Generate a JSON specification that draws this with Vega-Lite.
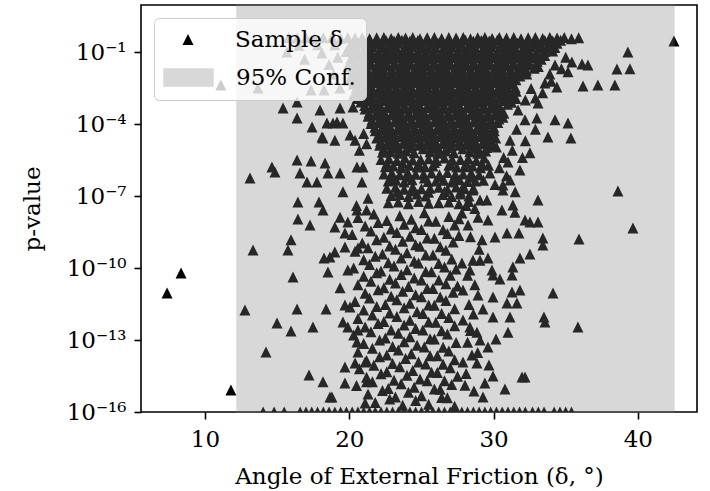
{
"$schema":"https://vega.github.io/schema/vega-lite/v6.json",
"width":556,"height":407,
"autosize":{"type":"none"},
"padding":{"left":141,"top":5,"right":13,"bottom":79},
"background":"white",
"config":{
 "font":"DejaVu Serif",
 "view":{"stroke":"#000","strokeWidth":1.6},
 "axis":{"domain":false,"grid":false,"ticks":true,"tickColor":"#000","tickWidth":1.6,"tickSize":7,"labelFont":"DejaVu Serif","labelFontSize":23,"labelColor":"#000","titleFont":"DejaVu Serif","titleFontSize":23,"titleFontWeight":"normal","titleColor":"#000"}
},
"datasets":{
"conf":[{"lo":12.22,"hi":42.5}],
"samples":[
{"x":15.8,"p":0.4},{"x":16.4,"p":0.38},{"x":17.0,"p":0.4},{"x":17.6,"p":0.36},{"x":18.2,"p":0.39},{"x":18.8,"p":0.4},{"x":19.4,"p":0.37},{"x":19.9,"p":0.4},{"x":20.4,"p":0.38},{"x":20.9,"p":0.4},{"x":21.4,"p":0.36},{"x":21.9,"p":0.39},{"x":22.4,"p":0.4},{"x":22.9,"p":0.37},{"x":23.4,"p":0.4},{"x":23.9,"p":0.38},{"x":24.4,"p":0.4},{"x":24.9,"p":0.36},{"x":25.4,"p":0.39},{"x":25.9,"p":0.4},{"x":26.4,"p":0.37},{"x":26.9,"p":0.4},{"x":27.4,"p":0.38},{"x":27.9,"p":0.4},{"x":28.4,"p":0.36},{"x":28.9,"p":0.39},{"x":29.4,"p":0.4},{"x":29.9,"p":0.37},{"x":30.4,"p":0.4},{"x":30.9,"p":0.38},{"x":31.4,"p":0.4},{"x":31.9,"p":0.36},{"x":32.4,"p":0.39},{"x":32.9,"p":0.4},{"x":33.4,"p":0.37},{"x":33.9,"p":0.4},{"x":34.4,"p":0.38},{"x":34.9,"p":0.4},{"x":35.4,"p":0.36},{"x":35.9,"p":0.39},
{"x":20.35,"p":0.3},{"x":20.9,"p":0.29},{"x":21.45,"p":0.31},{"x":22.0,"p":0.28},{"x":22.55,"p":0.3},{"x":23.1,"p":0.29},{"x":23.65,"p":0.31},{"x":24.2,"p":0.28},{"x":24.75,"p":0.3},{"x":25.3,"p":0.29},{"x":25.85,"p":0.31},{"x":26.4,"p":0.28},{"x":26.95,"p":0.3},{"x":27.5,"p":0.29},{"x":28.05,"p":0.31},{"x":28.6,"p":0.28},{"x":29.15,"p":0.3},{"x":29.7,"p":0.29},{"x":30.25,"p":0.31},{"x":30.8,"p":0.28},{"x":31.35,"p":0.3},{"x":31.9,"p":0.29},{"x":32.45,"p":0.31},{"x":33.0,"p":0.28},{"x":33.55,"p":0.3},{"x":34.1,"p":0.29},{"x":34.65,"p":0.31},
{"x":20.1,"p":0.21},{"x":20.65,"p":0.23},{"x":21.2,"p":0.2},{"x":21.75,"p":0.22},{"x":22.3,"p":0.19},{"x":22.85,"p":0.21},{"x":23.4,"p":0.23},{"x":23.95,"p":0.2},{"x":24.5,"p":0.22},{"x":25.05,"p":0.19},{"x":25.6,"p":0.21},{"x":26.15,"p":0.23},{"x":26.7,"p":0.2},{"x":27.25,"p":0.22},{"x":27.8,"p":0.19},{"x":28.35,"p":0.21},{"x":28.9,"p":0.23},{"x":29.45,"p":0.2},{"x":30.0,"p":0.22},{"x":30.55,"p":0.19},{"x":31.1,"p":0.21},{"x":31.65,"p":0.23},{"x":32.2,"p":0.2},{"x":32.75,"p":0.22},{"x":33.3,"p":0.19},{"x":33.85,"p":0.21},{"x":34.4,"p":0.23},
{"x":19.95,"p":0.148},{"x":20.5,"p":0.155},{"x":21.05,"p":0.14},{"x":21.6,"p":0.16},{"x":22.15,"p":0.145},{"x":22.7,"p":0.148},{"x":23.25,"p":0.155},{"x":23.8,"p":0.14},{"x":24.35,"p":0.16},{"x":24.9,"p":0.145},{"x":25.45,"p":0.148},{"x":26.0,"p":0.155},{"x":26.55,"p":0.14},{"x":27.1,"p":0.16},{"x":27.65,"p":0.145},{"x":28.2,"p":0.148},{"x":28.75,"p":0.155},{"x":29.3,"p":0.14},{"x":29.85,"p":0.16},{"x":30.4,"p":0.145},{"x":30.95,"p":0.148},{"x":31.5,"p":0.155},{"x":32.05,"p":0.14},{"x":32.6,"p":0.16},{"x":33.15,"p":0.145},{"x":33.7,"p":0.148},{"x":34.25,"p":0.155},
{"x":19.8,"p":0.105},{"x":20.35,"p":0.11},{"x":20.9,"p":0.098},{"x":21.45,"p":0.115},{"x":22.0,"p":0.1},{"x":22.55,"p":0.105},{"x":23.1,"p":0.11},{"x":23.65,"p":0.098},{"x":24.2,"p":0.115},{"x":24.75,"p":0.1},{"x":25.3,"p":0.105},{"x":25.85,"p":0.11},{"x":26.4,"p":0.098},{"x":26.95,"p":0.115},{"x":27.5,"p":0.1},{"x":28.05,"p":0.105},{"x":28.6,"p":0.11},{"x":29.15,"p":0.098},{"x":29.7,"p":0.115},{"x":30.25,"p":0.1},{"x":30.8,"p":0.105},{"x":31.35,"p":0.11},{"x":31.9,"p":0.098},{"x":32.45,"p":0.115},{"x":33.0,"p":0.1},{"x":33.55,"p":0.105},{"x":34.1,"p":0.11},
{"x":20.35,"p":0.074},{"x":20.9,"p":0.078},{"x":21.45,"p":0.07},{"x":22.0,"p":0.08},{"x":22.55,"p":0.072},{"x":23.1,"p":0.074},{"x":23.65,"p":0.078},{"x":24.2,"p":0.07},{"x":24.75,"p":0.08},{"x":25.3,"p":0.072},{"x":25.85,"p":0.074},{"x":26.4,"p":0.078},{"x":26.95,"p":0.07},{"x":27.5,"p":0.08},{"x":28.05,"p":0.072},{"x":28.6,"p":0.074},{"x":29.15,"p":0.078},{"x":29.7,"p":0.07},{"x":30.25,"p":0.08},{"x":30.8,"p":0.072},{"x":31.35,"p":0.074},{"x":31.9,"p":0.078},{"x":32.45,"p":0.07},{"x":33.0,"p":0.08},{"x":33.55,"p":0.072},
{"x":20.1,"p":0.052},{"x":20.65,"p":0.056},{"x":21.2,"p":0.049},{"x":21.75,"p":0.058},{"x":22.3,"p":0.05},{"x":22.85,"p":0.052},{"x":23.4,"p":0.056},{"x":23.95,"p":0.049},{"x":24.5,"p":0.058},{"x":25.05,"p":0.05},{"x":25.6,"p":0.052},{"x":26.15,"p":0.056},{"x":26.7,"p":0.049},{"x":27.25,"p":0.058},{"x":27.8,"p":0.05},{"x":28.35,"p":0.052},{"x":28.9,"p":0.056},{"x":29.45,"p":0.049},{"x":30.0,"p":0.058},{"x":30.55,"p":0.05},{"x":31.1,"p":0.052},{"x":31.65,"p":0.056},{"x":32.2,"p":0.049},{"x":32.75,"p":0.058},{"x":33.3,"p":0.05},
{"x":20.38,"p":0.037},{"x":20.93,"p":0.04},{"x":21.48,"p":0.035},{"x":22.03,"p":0.041},{"x":22.58,"p":0.036},{"x":23.13,"p":0.037},{"x":23.68,"p":0.04},{"x":24.23,"p":0.035},{"x":24.78,"p":0.041},{"x":25.33,"p":0.036},{"x":25.88,"p":0.037},{"x":26.43,"p":0.04},{"x":26.98,"p":0.035},{"x":27.53,"p":0.041},{"x":28.08,"p":0.036},{"x":28.63,"p":0.037},{"x":29.18,"p":0.04},{"x":29.73,"p":0.035},{"x":30.28,"p":0.041},{"x":30.83,"p":0.036},{"x":31.38,"p":0.037},{"x":31.93,"p":0.04},{"x":32.48,"p":0.035},{"x":33.03,"p":0.041},
{"x":19.9,"p":0.026},{"x":20.45,"p":0.028},{"x":21.0,"p":0.024},{"x":21.55,"p":0.029},{"x":22.1,"p":0.025},{"x":22.65,"p":0.026},{"x":23.2,"p":0.028},{"x":23.75,"p":0.024},{"x":24.3,"p":0.029},{"x":24.85,"p":0.025},{"x":25.4,"p":0.026},{"x":25.95,"p":0.028},{"x":26.5,"p":0.024},{"x":27.05,"p":0.029},{"x":27.6,"p":0.025},{"x":28.15,"p":0.026},{"x":28.7,"p":0.028},{"x":29.25,"p":0.024},{"x":29.8,"p":0.029},{"x":30.35,"p":0.025},{"x":30.9,"p":0.026},{"x":31.45,"p":0.028},{"x":32.0,"p":0.024},{"x":32.55,"p":0.029},{"x":33.1,"p":0.025},
{"x":20.17,"p":0.0186},{"x":20.72,"p":0.02},{"x":21.27,"p":0.0175},{"x":21.82,"p":0.021},{"x":22.37,"p":0.018},{"x":22.92,"p":0.0186},{"x":23.47,"p":0.02},{"x":24.02,"p":0.0175},{"x":24.57,"p":0.021},{"x":25.12,"p":0.018},{"x":25.67,"p":0.0186},{"x":26.22,"p":0.02},{"x":26.77,"p":0.0175},{"x":27.32,"p":0.021},{"x":27.87,"p":0.018},{"x":28.42,"p":0.0186},{"x":28.97,"p":0.02},{"x":29.52,"p":0.0175},{"x":30.07,"p":0.021},{"x":30.62,"p":0.018},{"x":31.17,"p":0.0186},{"x":31.72,"p":0.02},{"x":32.27,"p":0.0175},{"x":32.82,"p":0.021},
{"x":20.2,"p":0.013},{"x":20.75,"p":0.014},{"x":21.3,"p":0.012},{"x":21.85,"p":0.015},{"x":22.4,"p":0.0125},{"x":22.95,"p":0.013},{"x":23.5,"p":0.014},{"x":24.05,"p":0.012},{"x":24.6,"p":0.015},{"x":25.15,"p":0.0125},{"x":25.7,"p":0.013},{"x":26.25,"p":0.014},{"x":26.8,"p":0.012},{"x":27.35,"p":0.015},{"x":27.9,"p":0.0125},{"x":28.45,"p":0.013},{"x":29.0,"p":0.014},{"x":29.55,"p":0.012},{"x":30.1,"p":0.015},{"x":30.65,"p":0.0125},{"x":31.2,"p":0.013},{"x":31.75,"p":0.014},{"x":32.3,"p":0.012},
{"x":20.28,"p":0.0093},{"x":20.83,"p":0.01},{"x":21.38,"p":0.0088},{"x":21.93,"p":0.0105},{"x":22.48,"p":0.009},{"x":23.03,"p":0.0093},{"x":23.58,"p":0.01},{"x":24.13,"p":0.0088},{"x":24.68,"p":0.0105},{"x":25.23,"p":0.009},{"x":25.78,"p":0.0093},{"x":26.33,"p":0.01},{"x":26.88,"p":0.0088},{"x":27.43,"p":0.0105},{"x":27.98,"p":0.009},{"x":28.53,"p":0.0093},{"x":29.08,"p":0.01},{"x":29.63,"p":0.0088},{"x":30.18,"p":0.0105},{"x":30.73,"p":0.009},{"x":31.28,"p":0.0093},{"x":31.83,"p":0.01},
{"x":20.0,"p":0.0066},{"x":20.55,"p":0.007},{"x":21.1,"p":0.006},{"x":21.65,"p":0.0074},{"x":22.2,"p":0.0063},{"x":22.75,"p":0.0066},{"x":23.3,"p":0.007},{"x":23.85,"p":0.006},{"x":24.4,"p":0.0074},{"x":24.95,"p":0.0063},{"x":25.5,"p":0.0066},{"x":26.05,"p":0.007},{"x":26.6,"p":0.006},{"x":27.15,"p":0.0074},{"x":27.7,"p":0.0063},{"x":28.25,"p":0.0066},{"x":28.8,"p":0.007},{"x":29.35,"p":0.006},{"x":29.9,"p":0.0074},{"x":30.45,"p":0.0063},{"x":31.0,"p":0.0066},{"x":31.55,"p":0.007},
{"x":20.27,"p":0.0047},{"x":20.82,"p":0.005},{"x":21.37,"p":0.0044},{"x":21.92,"p":0.0052},{"x":22.47,"p":0.0045},{"x":23.02,"p":0.0047},{"x":23.57,"p":0.005},{"x":24.12,"p":0.0044},{"x":24.67,"p":0.0052},{"x":25.22,"p":0.0045},{"x":25.77,"p":0.0047},{"x":26.32,"p":0.005},{"x":26.87,"p":0.0044},{"x":27.42,"p":0.0052},{"x":27.97,"p":0.0045},{"x":28.52,"p":0.0047},{"x":29.07,"p":0.005},{"x":29.62,"p":0.0044},{"x":30.17,"p":0.0052},{"x":30.72,"p":0.0045},{"x":31.27,"p":0.0047},
{"x":20.5,"p":0.0033},{"x":21.05,"p":0.0036},{"x":21.6,"p":0.003},{"x":22.15,"p":0.0038},{"x":22.7,"p":0.0032},{"x":23.25,"p":0.0033},{"x":23.8,"p":0.0036},{"x":24.35,"p":0.003},{"x":24.9,"p":0.0038},{"x":25.45,"p":0.0032},{"x":26.0,"p":0.0033},{"x":26.55,"p":0.0036},{"x":27.1,"p":0.003},{"x":27.65,"p":0.0038},{"x":28.2,"p":0.0032},{"x":28.75,"p":0.0033},{"x":29.3,"p":0.0036},{"x":29.85,"p":0.003},{"x":30.4,"p":0.0038},{"x":30.95,"p":0.0032},{"x":31.5,"p":0.0033},
{"x":20.57,"p":0.00234},{"x":21.12,"p":0.0025},{"x":21.67,"p":0.0022},{"x":22.22,"p":0.0026},{"x":22.77,"p":0.0023},{"x":23.32,"p":0.00234},{"x":23.87,"p":0.0025},{"x":24.42,"p":0.0022},{"x":24.97,"p":0.0026},{"x":25.52,"p":0.0023},{"x":26.07,"p":0.00234},{"x":26.62,"p":0.0025},{"x":27.17,"p":0.0022},{"x":27.72,"p":0.0026},{"x":28.27,"p":0.0023},{"x":28.82,"p":0.00234},{"x":29.37,"p":0.0025},{"x":29.92,"p":0.0022},{"x":30.47,"p":0.0026},{"x":31.02,"p":0.0023},{"x":31.57,"p":0.00234},
{"x":20.3,"p":0.00166},{"x":20.85,"p":0.0018},{"x":21.4,"p":0.0015},{"x":21.95,"p":0.0019},{"x":22.5,"p":0.0016},{"x":23.05,"p":0.00166},{"x":23.6,"p":0.0018},{"x":24.15,"p":0.0015},{"x":24.7,"p":0.0019},{"x":25.25,"p":0.0016},{"x":25.8,"p":0.00166},{"x":26.35,"p":0.0018},{"x":26.9,"p":0.0015},{"x":27.45,"p":0.0019},{"x":28.0,"p":0.0016},{"x":28.55,"p":0.00166},{"x":29.1,"p":0.0018},{"x":29.65,"p":0.0015},{"x":30.2,"p":0.0019},{"x":30.75,"p":0.0016},{"x":31.3,"p":0.00166},
{"x":20.55,"p":0.00117},{"x":21.1,"p":0.00125},{"x":21.65,"p":0.0011},{"x":22.2,"p":0.0013},{"x":22.75,"p":0.00115},{"x":23.3,"p":0.00117},{"x":23.85,"p":0.00125},{"x":24.4,"p":0.0011},{"x":24.95,"p":0.0013},{"x":25.5,"p":0.00115},{"x":26.05,"p":0.00117},{"x":26.6,"p":0.00125},{"x":27.15,"p":0.0011},{"x":27.7,"p":0.0013},{"x":28.25,"p":0.00115},{"x":28.8,"p":0.00117},{"x":29.35,"p":0.00125},{"x":29.9,"p":0.0011},{"x":30.45,"p":0.0013},{"x":31.0,"p":0.00115},{"x":31.55,"p":0.00117},
{"x":20.8,"p":8.3e-4},{"x":21.35,"p":9e-4},{"x":21.9,"p":7.6e-4},{"x":22.45,"p":9.5e-4},{"x":23.0,"p":8e-4},{"x":23.55,"p":8.3e-4},{"x":24.1,"p":9e-4},{"x":24.65,"p":7.6e-4},{"x":25.2,"p":9.5e-4},{"x":25.75,"p":8e-4},{"x":26.3,"p":8.3e-4},{"x":26.85,"p":9e-4},{"x":27.4,"p":7.6e-4},{"x":27.95,"p":9.5e-4},{"x":28.5,"p":8e-4},{"x":29.05,"p":8.3e-4},{"x":29.6,"p":9e-4},{"x":30.15,"p":7.6e-4},{"x":30.7,"p":9.5e-4},{"x":31.25,"p":8e-4},
{"x":21.07,"p":5.9e-4},{"x":21.62,"p":6.3e-4},{"x":22.17,"p":5.5e-4},{"x":22.72,"p":6.6e-4},{"x":23.27,"p":5.7e-4},{"x":23.82,"p":5.9e-4},{"x":24.37,"p":6.3e-4},{"x":24.92,"p":5.5e-4},{"x":25.47,"p":6.6e-4},{"x":26.02,"p":5.7e-4},{"x":26.57,"p":5.9e-4},{"x":27.12,"p":6.3e-4},{"x":27.67,"p":5.5e-4},{"x":28.22,"p":6.6e-4},{"x":28.77,"p":5.7e-4},{"x":29.32,"p":5.9e-4},{"x":29.87,"p":6.3e-4},{"x":30.42,"p":5.5e-4},{"x":30.97,"p":6.6e-4},
{"x":21.1,"p":4.2e-4},{"x":21.65,"p":4.5e-4},{"x":22.2,"p":3.8e-4},{"x":22.75,"p":4.8e-4},{"x":23.3,"p":4e-4},{"x":23.85,"p":4.2e-4},{"x":24.4,"p":4.5e-4},{"x":24.95,"p":3.8e-4},{"x":25.5,"p":4.8e-4},{"x":26.05,"p":4e-4},{"x":26.6,"p":4.2e-4},{"x":27.15,"p":4.5e-4},{"x":27.7,"p":3.8e-4},{"x":28.25,"p":4.8e-4},{"x":28.8,"p":4e-4},{"x":29.35,"p":4.2e-4},{"x":29.9,"p":4.5e-4},{"x":30.45,"p":3.8e-4},
{"x":21.37,"p":2.95e-4},{"x":21.92,"p":3.2e-4},{"x":22.47,"p":2.8e-4},{"x":23.02,"p":3.3e-4},{"x":23.57,"p":2.9e-4},{"x":24.12,"p":2.95e-4},{"x":24.67,"p":3.2e-4},{"x":25.22,"p":2.8e-4},{"x":25.77,"p":3.3e-4},{"x":26.32,"p":2.9e-4},{"x":26.87,"p":2.95e-4},{"x":27.42,"p":3.2e-4},{"x":27.97,"p":2.8e-4},{"x":28.52,"p":3.3e-4},{"x":29.07,"p":2.9e-4},{"x":29.62,"p":2.95e-4},{"x":30.17,"p":3.2e-4},{"x":30.72,"p":2.8e-4},
{"x":21.3,"p":2.1e-4},{"x":21.85,"p":2.3e-4},{"x":22.4,"p":1.9e-4},{"x":22.95,"p":2.4e-4},{"x":23.5,"p":2e-4},{"x":24.05,"p":2.1e-4},{"x":24.6,"p":2.3e-4},{"x":25.15,"p":1.9e-4},{"x":25.7,"p":2.4e-4},{"x":26.25,"p":2e-4},{"x":26.8,"p":2.1e-4},{"x":27.35,"p":2.3e-4},{"x":27.9,"p":1.9e-4},{"x":28.45,"p":2.4e-4},{"x":29.0,"p":2e-4},{"x":29.55,"p":2.1e-4},{"x":30.1,"p":2.3e-4},{"x":30.65,"p":1.9e-4},
{"x":21.57,"p":1.48e-4},{"x":22.12,"p":1.6e-4},{"x":22.67,"p":1.4e-4},{"x":23.22,"p":1.65e-4},{"x":23.77,"p":1.45e-4},{"x":24.32,"p":1.48e-4},{"x":24.87,"p":1.6e-4},{"x":25.42,"p":1.4e-4},{"x":25.97,"p":1.65e-4},{"x":26.52,"p":1.45e-4},{"x":27.07,"p":1.48e-4},{"x":27.62,"p":1.6e-4},{"x":28.17,"p":1.4e-4},{"x":28.72,"p":1.65e-4},{"x":29.27,"p":1.45e-4},{"x":29.82,"p":1.48e-4},{"x":30.37,"p":1.6e-4},
{"x":21.5,"p":1.05e-4},{"x":22.05,"p":1.15e-4},{"x":22.6,"p":9.5e-5},{"x":23.15,"p":1.2e-4},{"x":23.7,"p":1e-4},{"x":24.25,"p":1.05e-4},{"x":24.8,"p":1.15e-4},{"x":25.35,"p":9.5e-5},{"x":25.9,"p":1.2e-4},{"x":26.45,"p":1e-4},{"x":27.0,"p":1.05e-4},{"x":27.55,"p":1.15e-4},{"x":28.1,"p":9.5e-5},{"x":28.65,"p":1.2e-4},{"x":29.2,"p":1e-4},{"x":29.75,"p":1.05e-4},{"x":30.3,"p":1.15e-4},
{"x":21.77,"p":7.4e-5},{"x":22.32,"p":8e-5},{"x":22.87,"p":7e-5},{"x":23.42,"p":8.2e-5},{"x":23.97,"p":7.2e-5},{"x":24.52,"p":7.4e-5},{"x":25.07,"p":8e-5},{"x":25.62,"p":7e-5},{"x":26.17,"p":8.2e-5},{"x":26.72,"p":7.2e-5},{"x":27.27,"p":7.4e-5},{"x":27.82,"p":8e-5},{"x":28.37,"p":7e-5},{"x":28.92,"p":8.2e-5},{"x":29.47,"p":7.2e-5},{"x":30.02,"p":7.4e-5},
{"x":21.8,"p":5.2e-5},{"x":22.35,"p":5.6e-5},{"x":22.9,"p":4.8e-5},{"x":23.45,"p":5.9e-5},{"x":24.0,"p":5e-5},{"x":24.55,"p":5.2e-5},{"x":25.1,"p":5.6e-5},{"x":25.65,"p":4.8e-5},{"x":26.2,"p":5.9e-5},{"x":26.75,"p":5e-5},{"x":27.3,"p":5.2e-5},{"x":27.85,"p":5.6e-5},{"x":28.4,"p":4.8e-5},{"x":28.95,"p":5.9e-5},{"x":29.5,"p":5e-5},{"x":30.05,"p":5.2e-5},
{"x":22.07,"p":3.7e-5},{"x":22.62,"p":4e-5},{"x":23.17,"p":3.5e-5},{"x":23.72,"p":4.1e-5},{"x":24.27,"p":3.6e-5},{"x":24.82,"p":3.7e-5},{"x":25.37,"p":4e-5},{"x":25.92,"p":3.5e-5},{"x":26.47,"p":4.1e-5},{"x":27.02,"p":3.6e-5},{"x":27.57,"p":3.7e-5},{"x":28.12,"p":4e-5},{"x":28.67,"p":3.5e-5},{"x":29.22,"p":4.1e-5},{"x":29.77,"p":3.6e-5},
{"x":21.9,"p":2.6e-5},{"x":22.45,"p":2.8e-5},{"x":23.0,"p":2.4e-5},{"x":23.55,"p":3e-5},{"x":24.1,"p":2.5e-5},{"x":24.65,"p":2.6e-5},{"x":25.2,"p":2.8e-5},{"x":25.75,"p":2.4e-5},{"x":26.3,"p":3e-5},{"x":26.85,"p":2.5e-5},{"x":27.4,"p":2.6e-5},{"x":27.95,"p":2.8e-5},{"x":28.5,"p":2.4e-5},{"x":29.05,"p":3e-5},{"x":29.6,"p":2.5e-5},{"x":30.15,"p":2.6e-5},
{"x":22.17,"p":1.86e-5},{"x":22.72,"p":2e-5},{"x":23.27,"p":1.75e-5},{"x":23.82,"p":2.1e-5},{"x":24.37,"p":1.8e-5},{"x":24.92,"p":1.86e-5},{"x":25.47,"p":2e-5},{"x":26.02,"p":1.75e-5},{"x":26.57,"p":2.1e-5},{"x":27.12,"p":1.8e-5},{"x":27.67,"p":1.86e-5},{"x":28.22,"p":2e-5},{"x":28.77,"p":1.75e-5},{"x":29.32,"p":2.1e-5},{"x":29.87,"p":1.8e-5},
{"x":22.1,"p":1.3e-5},{"x":22.65,"p":1.4e-5},{"x":23.2,"p":1.2e-5},{"x":23.75,"p":1.5e-5},{"x":24.3,"p":1.25e-5},{"x":24.85,"p":1.3e-5},{"x":25.4,"p":1.4e-5},{"x":25.95,"p":1.2e-5},{"x":26.5,"p":1.5e-5},{"x":27.05,"p":1.25e-5},{"x":27.6,"p":1.3e-5},{"x":28.15,"p":1.4e-5},{"x":28.7,"p":1.2e-5},{"x":29.25,"p":1.5e-5},{"x":29.8,"p":1.25e-5},
{"x":22.37,"p":9.3e-6},{"x":22.92,"p":1e-5},{"x":23.47,"p":8.8e-6},{"x":24.02,"p":1.05e-5},{"x":25.12,"p":9.3e-6},{"x":25.67,"p":1e-5},{"x":26.22,"p":8.8e-6},{"x":26.77,"p":1.05e-5},{"x":27.87,"p":9.3e-6},{"x":28.42,"p":1e-5},{"x":28.97,"p":8.8e-6},{"x":29.52,"p":1.05e-5},
{"x":22.3,"p":6.6e-6},{"x":22.85,"p":7e-6},{"x":23.4,"p":6e-6},{"x":23.95,"p":7.5e-6},{"x":24.5,"p":6.3e-6},{"x":25.6,"p":7e-6},{"x":26.15,"p":6e-6},{"x":26.7,"p":7.5e-6},{"x":27.25,"p":6.3e-6},{"x":28.35,"p":7e-6},{"x":28.9,"p":6e-6},{"x":29.45,"p":7.5e-6},
{"x":22.2,"p":3.3e-6},{"x":22.75,"p":3.6e-6},{"x":23.3,"p":3e-6},{"x":23.85,"p":3.8e-6},{"x":24.4,"p":3.2e-6},{"x":24.95,"p":3.3e-6},{"x":25.5,"p":3.6e-6},{"x":26.05,"p":3e-6},{"x":26.6,"p":3.8e-6},{"x":27.15,"p":3.2e-6},{"x":27.7,"p":3.3e-6},{"x":28.25,"p":3.6e-6},{"x":28.8,"p":3e-6},{"x":29.35,"p":3.8e-6},
{"x":22.6,"p":2.3e-6},{"x":23.7,"p":2.4e-6},{"x":24.8,"p":2.2e-6},{"x":25.9,"p":2.5e-6},{"x":27.0,"p":2.3e-6},{"x":28.1,"p":2.4e-6},{"x":29.2,"p":2.2e-6},
{"x":22.5,"p":1.66e-6},{"x":23.05,"p":1.8e-6},{"x":23.6,"p":1.5e-6},{"x":24.15,"p":1.9e-6},{"x":24.7,"p":1.6e-6},{"x":25.25,"p":1.66e-6},{"x":25.8,"p":1.8e-6},{"x":26.9,"p":1.9e-6},{"x":27.45,"p":1.6e-6},{"x":28.0,"p":1.66e-6},{"x":28.55,"p":1.8e-6},{"x":29.1,"p":1.5e-6},{"x":29.65,"p":1.9e-6},
{"x":22.4,"p":8.3e-7},{"x":22.95,"p":9e-7},{"x":23.5,"p":7.6e-7},{"x":24.05,"p":9.5e-7},{"x":24.6,"p":8e-7},{"x":25.15,"p":8.3e-7},{"x":25.7,"p":9e-7},{"x":26.25,"p":7.6e-7},{"x":26.8,"p":9.5e-7},{"x":27.35,"p":8e-7},{"x":27.9,"p":8.3e-7},{"x":28.45,"p":9e-7},{"x":29.0,"p":7.6e-7},
{"x":23.0,"p":5.9e-7},{"x":24.1,"p":6.2e-7},{"x":25.2,"p":5.6e-7},{"x":26.3,"p":6.3e-7},{"x":27.4,"p":5.7e-7},{"x":28.5,"p":6e-7},
{"x":22.7,"p":4.2e-7},{"x":23.25,"p":4.5e-7},{"x":23.8,"p":3.8e-7},{"x":24.35,"p":4.8e-7},{"x":25.45,"p":4e-7},{"x":26.0,"p":4.2e-7},{"x":26.55,"p":4.5e-7},{"x":27.1,"p":3.8e-7},{"x":27.65,"p":4.8e-7},{"x":28.2,"p":4e-7},{"x":28.75,"p":4.2e-7},{"x":29.3,"p":4.5e-7},
{"x":22.6,"p":2.1e-7},{"x":23.2,"p":2.3e-7},{"x":23.8,"p":1.9e-7},{"x":24.4,"p":2.4e-7},{"x":25.0,"p":2e-7},{"x":25.6,"p":2.1e-7},{"x":26.2,"p":2.3e-7},{"x":26.8,"p":1.9e-7},{"x":27.4,"p":2.4e-7},{"x":28.0,"p":2e-7},{"x":28.6,"p":2.1e-7},
{"x":23.3,"p":1.5e-7},{"x":24.4,"p":1.6e-7},{"x":25.5,"p":1.45e-7},{"x":26.6,"p":1.55e-7},{"x":27.7,"p":1.5e-7},
{"x":22.9,"p":1.05e-7},{"x":23.5,"p":1.15e-7},{"x":24.1,"p":9.5e-8},{"x":24.7,"p":1.2e-7},{"x":25.3,"p":1e-7},{"x":26.5,"p":1.15e-7},{"x":27.1,"p":9.5e-8},{"x":27.7,"p":1.2e-7},{"x":28.3,"p":1e-7},
{"x":22.7,"p":5.2e-8},{"x":23.4,"p":5.6e-8},{"x":24.1,"p":4.8e-8},{"x":24.8,"p":5.9e-8},{"x":25.5,"p":5e-8},{"x":26.2,"p":5.2e-8},{"x":26.9,"p":5.6e-8},{"x":27.6,"p":4.8e-8},{"x":28.3,"p":5.9e-8},
{"x":20.6,"p":1.26e-8},{"x":21.7,"p":1.8e-8},{"x":22.6,"p":9.5e-9},{"x":23.5,"p":1.5e-8},{"x":24.3,"p":1.07e-8},{"x":25.2,"p":2e-8},{"x":26.0,"p":8.8e-9},{"x":26.9,"p":1.4e-8},{"x":27.6,"p":1.13e-8},
{"x":21.1,"p":5.6e-9},{"x":22.0,"p":7.8e-9},{"x":22.9,"p":4.2e-9},{"x":23.8,"p":6.7e-9},{"x":24.6,"p":4.8e-9},{"x":25.5,"p":9e-9},{"x":26.5,"p":3.9e-9},{"x":27.3,"p":6.2e-9},
{"x":20.2,"p":2.5e-9},{"x":21.5,"p":3.5e-9},{"x":22.4,"p":1.9e-9},{"x":23.3,"p":3e-9},{"x":24.2,"p":2.1e-9},{"x":25.0,"p":4e-9},{"x":25.9,"p":1.75e-9},{"x":26.8,"p":2.75e-9},{"x":27.6,"p":2.25e-9},
{"x":20.9,"p":1.1e-9},{"x":21.9,"p":1.5e-9},{"x":22.8,"p":8.3e-10},{"x":23.7,"p":1.3e-9},{"x":24.6,"p":9.4e-10},{"x":25.4,"p":1.8e-9},{"x":26.3,"p":7.7e-10},{"x":27.2,"p":1.2e-9},
{"x":20.4,"p":5e-10},{"x":21.3,"p":7e-10},{"x":22.3,"p":3.8e-10},{"x":23.2,"p":6e-10},{"x":24.0,"p":4.3e-10},{"x":24.9,"p":8e-10},{"x":25.8,"p":3.5e-10},{"x":26.7,"p":5.5e-10},
{"x":21.0,"p":2.2e-10},{"x":21.8,"p":3.1e-10},{"x":22.7,"p":1.65e-10},{"x":23.6,"p":2.6e-10},{"x":24.5,"p":1.9e-10},{"x":25.3,"p":3.5e-10},{"x":26.2,"p":1.55e-10},{"x":27.1,"p":2.4e-10},
{"x":20.3,"p":1e-10},{"x":21.4,"p":1.4e-10},{"x":22.2,"p":7.5e-11},{"x":23.1,"p":1.2e-10},{"x":24.0,"p":8.5e-11},{"x":24.8,"p":1.6e-10},{"x":25.7,"p":7e-11},{"x":26.6,"p":1.1e-10},{"x":27.4,"p":9e-11},
{"x":21.0,"p":4.5e-11},{"x":21.9,"p":6.3e-11},{"x":22.8,"p":3.4e-11},{"x":23.6,"p":5.4e-11},{"x":24.5,"p":3.8e-11},{"x":25.3,"p":7.2e-11},{"x":26.2,"p":3.2e-11},{"x":27.0,"p":5e-11},
{"x":20.6,"p":2e-11},{"x":21.5,"p":2.8e-11},{"x":22.4,"p":1.5e-11},{"x":23.2,"p":2.4e-11},{"x":24.1,"p":1.7e-11},{"x":25.0,"p":3.2e-11},{"x":25.8,"p":1.4e-11},{"x":26.7,"p":2.2e-11},{"x":27.5,"p":1.8e-11},
{"x":21.1,"p":8.9e-12},{"x":22.0,"p":1.25e-11},{"x":22.9,"p":6.7e-12},{"x":23.7,"p":1.07e-11},{"x":24.6,"p":7.6e-12},{"x":25.4,"p":1.4e-11},{"x":26.3,"p":6.2e-12},{"x":27.2,"p":9.8e-12},
{"x":20.4,"p":4e-12},{"x":21.4,"p":5.6e-12},{"x":22.5,"p":3e-12},{"x":23.3,"p":4.8e-12},{"x":24.2,"p":3.4e-12},{"x":25.0,"p":6.4e-12},{"x":25.9,"p":2.8e-12},{"x":26.7,"p":4.4e-12},
{"x":21.0,"p":1.8e-12},{"x":21.9,"p":2.5e-12},{"x":22.8,"p":1.35e-12},{"x":23.8,"p":2.2e-12},{"x":24.7,"p":1.5e-12},{"x":25.5,"p":2.9e-12},{"x":26.4,"p":1.26e-12},{"x":27.3,"p":2e-12},
{"x":20.6,"p":7.9e-13},{"x":21.6,"p":1.1e-12},{"x":22.4,"p":5.9e-13},{"x":23.3,"p":9.5e-13},{"x":24.2,"p":6.7e-13},{"x":25.1,"p":1.26e-12},{"x":26.0,"p":5.5e-13},{"x":26.9,"p":8.7e-13},
{"x":21.1,"p":3.5e-13},{"x":22.0,"p":4.9e-13},{"x":22.9,"p":2.6e-13},{"x":23.8,"p":4.2e-13},{"x":24.6,"p":3e-13},{"x":25.5,"p":5.6e-13},{"x":26.4,"p":2.45e-13},{"x":27.3,"p":3.9e-13},
{"x":20.3,"p":1.6e-13},{"x":21.5,"p":2.2e-13},{"x":22.5,"p":1.2e-13},{"x":23.4,"p":1.9e-13},{"x":24.2,"p":1.36e-13},{"x":25.1,"p":2.6e-13},{"x":25.9,"p":1.1e-13},{"x":26.8,"p":1.8e-13},
{"x":21.0,"p":7.1e-14},{"x":22.1,"p":1e-13},{"x":23.0,"p":5.3e-14},{"x":23.8,"p":8.5e-14},{"x":24.7,"p":6e-14},{"x":25.6,"p":1.14e-13},{"x":26.5,"p":5e-14},{"x":27.4,"p":7.8e-14},
{"x":20.6,"p":3.2e-14},{"x":21.6,"p":4.5e-14},{"x":22.6,"p":2.4e-14},{"x":23.4,"p":3.8e-14},{"x":24.3,"p":2.7e-14},{"x":25.2,"p":5.1e-14},{"x":26.1,"p":2.2e-14},{"x":26.9,"p":3.5e-14},
{"x":21.2,"p":1.4e-14},{"x":22.1,"p":2e-14},{"x":23.0,"p":1.05e-14},{"x":23.9,"p":1.7e-14},{"x":24.8,"p":1.2e-14},{"x":25.6,"p":2.2e-14},{"x":26.5,"p":9.8e-15},{"x":27.3,"p":1.5e-14},
{"x":20.7,"p":6.3e-15},{"x":21.7,"p":8.8e-15},{"x":22.6,"p":4.7e-15},{"x":23.5,"p":7.6e-15},{"x":24.4,"p":5.4e-15},{"x":25.3,"p":1e-14},{"x":26.1,"p":4.4e-15},{"x":27.0,"p":6.9e-15},
{"x":21.2,"p":2.8e-15},{"x":22.2,"p":3.9e-15},{"x":23.1,"p":2.1e-15},{"x":24.0,"p":3.4e-15},{"x":24.9,"p":2.4e-15},{"x":25.7,"p":4.5e-15},{"x":26.6,"p":2e-15},{"x":27.5,"p":3.1e-15},
{"x":20.5,"p":1.26e-15},{"x":21.6,"p":1.8e-15},{"x":22.7,"p":9.5e-16},{"x":23.6,"p":1.5e-15},{"x":24.5,"p":1.07e-15},{"x":25.4,"p":2e-15},{"x":26.3,"p":8.8e-16},{"x":27.1,"p":1.4e-15},
{"x":21.3,"p":5.6e-16},{"x":22.3,"p":7.8e-16},{"x":23.2,"p":4.2e-16},{"x":24.1,"p":6.7e-16},{"x":25.0,"p":4.8e-16},{"x":25.9,"p":9e-16},{"x":26.8,"p":3.9e-16},
{"x":21.8,"p":2.5e-16},{"x":22.8,"p":3.5e-16},{"x":23.7,"p":1.9e-16},{"x":24.6,"p":3e-16},{"x":25.5,"p":2.1e-16},{"x":26.4,"p":4e-16},{"x":27.3,"p":1.75e-16},
{"x":14.03,"p":1e-16},{"x":14.79,"p":1e-16},{"x":15.49,"p":1e-16},{"x":16.6,"p":1e-16},{"x":17.0,"p":1e-16},{"x":17.4,"p":1e-16},{"x":17.8,"p":1e-16},{"x":18.2,"p":1e-16},{"x":18.6,"p":1e-16},{"x":19.0,"p":1e-16},{"x":19.4,"p":1e-16},{"x":19.8,"p":1e-16},{"x":20.2,"p":1e-16},{"x":20.6,"p":1e-16},{"x":21.0,"p":1e-16},{"x":21.4,"p":1e-16},{"x":21.8,"p":1e-16},{"x":22.2,"p":1e-16},{"x":22.6,"p":1e-16},{"x":23.0,"p":1e-16},{"x":23.4,"p":1e-16},{"x":23.8,"p":1e-16},{"x":24.2,"p":1e-16},{"x":24.6,"p":1e-16},{"x":25.0,"p":1e-16},{"x":25.4,"p":1e-16},{"x":25.8,"p":1e-16},{"x":26.2,"p":1e-16},{"x":26.6,"p":1e-16},{"x":27.0,"p":1e-16},{"x":27.4,"p":1e-16},{"x":27.8,"p":1e-16},{"x":28.2,"p":1e-16},{"x":28.6,"p":1e-16},{"x":29.0,"p":1e-16},{"x":29.4,"p":1e-16},{"x":29.8,"p":1e-16},{"x":30.2,"p":1e-16},{"x":30.6,"p":1e-16},{"x":31.0,"p":1e-16},{"x":31.4,"p":1e-16},{"x":31.8,"p":1e-16},{"x":32.2,"p":1e-16},{"x":32.7,"p":1e-16},{"x":33.1,"p":1e-16},{"x":33.5,"p":1e-16},{"x":34.2,"p":1e-16},{"x":34.6,"p":1e-16},{"x":35.0,"p":1e-16},{"x":35.4,"p":1e-16},
{"x":38.62,"p":1.6e-7},{"x":39.66,"p":4.7e-9},{"x":35.92,"p":1.6e-9},{"x":33.08,"p":6.8e-8},{"x":34.12,"p":9.1e-12},{"x":33.56,"p":5.6e-13},{"x":33.49,"p":9.1e-13},{"x":35.85,"p":3.5e-13},{"x":31.97,"p":2.9e-15},{"x":32.18,"p":2.9e-15},{"x":30.79,"p":9.1e-16},{"x":29.27,"p":4.2e-16},{"x":28.64,"p":7.5e-16},{"x":29.96,"p":3.2e-15},{"x":29.4,"p":1.6e-15},{"x":29.68,"p":9.1e-15},{"x":28.85,"p":1.1e-14},{"x":28.5,"p":2.4e-14},{"x":27.88,"p":1.2e-14},{"x":28.02,"p":1.3e-15},{"x":30.17,"p":1.1e-13},{"x":29.61,"p":5.1e-14},{"x":29.06,"p":1e-13},{"x":28.85,"p":2.1e-13},{"x":31.0,"p":2.1e-13},{"x":31.14,"p":9.1e-13},{"x":29.96,"p":9.1e-13},{"x":29.27,"p":1.95e-12},{"x":30.93,"p":3.5e-12},{"x":31.62,"p":3.5e-12},{"x":31.28,"p":1e-11},{"x":31.83,"p":1.2e-11},{"x":29.96,"p":6.2e-12},{"x":28.92,"p":7.5e-12},{"x":30.44,"p":3.5e-11},{"x":29.96,"p":5.1e-11},{"x":29.89,"p":8.3e-11},{"x":31.28,"p":5.1e-11},{"x":31.34,"p":1.1e-10},{"x":31.83,"p":2.6e-10},{"x":32.52,"p":3.8e-10},{"x":28.57,"p":2.1e-10},{"x":29.06,"p":2.1e-10},{"x":29.61,"p":2.6e-10},{"x":28.36,"p":8.3e-11},{"x":27.81,"p":1.6e-10},{"x":29.2,"p":1.5e-9},{"x":30.1,"p":1.95e-9},{"x":30.93,"p":2.9e-9},{"x":31.76,"p":2.9e-9},{"x":33.42,"p":1.8e-9},{"x":33.42,"p":9.1e-10},{"x":32.18,"p":1e-8},{"x":32.52,"p":8.3e-9},{"x":33.08,"p":8.3e-9},{"x":30.58,"p":2.6e-8},{"x":31.34,"p":4.2e-8},{"x":31.48,"p":2.1e-8},{"x":29.61,"p":1e-8},{"x":28.92,"p":1.3e-8},{"x":28.23,"p":6.2e-9},{"x":29.54,"p":6.8e-8},{"x":29.06,"p":6.8e-8},{"x":30.65,"p":1.8e-7},{"x":30.65,"p":2.9e-7},{"x":31.14,"p":4.7e-7},{"x":28.57,"p":1.8e-7},{"x":27.88,"p":2.4e-7},{"x":27.81,"p":1.95e-8},{"x":27.88,"p":1.2e-11},{"x":27.88,"p":6.8e-13},{"x":28.36,"p":3.5e-13},
{"x":28.1,"p":4e-8},{"x":28.7,"p":3e-8},{"x":28.4,"p":2e-9},{"x":29.0,"p":6e-10},{"x":28.2,"p":5e-11},{"x":28.7,"p":2e-11},{"x":28.3,"p":3e-12},{"x":28.6,"p":1.2e-12},{"x":28.2,"p":8e-14},{"x":28.9,"p":3e-14},{"x":28.1,"p":4e-15},{"x":28.4,"p":2.5e-13},
{"x":42.5,"p":0.29},{"x":39.31,"p":0.1},{"x":38.55,"p":0.0195},{"x":39.45,"p":0.02},{"x":38.41,"p":0.0042},{"x":37.23,"p":0.0042},{"x":36.2,"p":0.0038},{"x":36.54,"p":0.029},{"x":36.13,"p":0.032},{"x":35.43,"p":0.038},{"x":34.26,"p":0.029},{"x":35.16,"p":0.015},{"x":33.56,"p":0.0051},{"x":34.39,"p":0.0035},{"x":33.08,"p":7.5e-4},{"x":34.26,"p":1.5e-4},{"x":35.16,"p":1.1e-4},{"x":35.36,"p":2.6e-5},
{"x":33.0,"p":1.8e-4},{"x":32.18,"p":1.5e-4},{"x":33.77,"p":2.9e-5},{"x":32.52,"p":6.3e-6},{"x":31.83,"p":1.2e-6},{"x":31.0,"p":2.6e-6},{"x":31.14,"p":2.1e-5},{"x":32.2,"p":1e-3},{"x":31.7,"p":3.8e-4},{"x":30.2,"p":1.1e-5},{"x":29.75,"p":9.1e-7},{"x":32.9,"p":6e-5},{"x":32.2,"p":2e-5},{"x":31.6,"p":6e-5},{"x":31.3,"p":8e-6},{"x":30.7,"p":4e-6},{"x":30.4,"p":1.5e-6},{"x":30.9,"p":7e-7},{"x":32.0,"p":4e-6},{"x":31.5,"p":1.5e-7},{"x":30.1,"p":3e-7},{"x":32.6,"p":3e-3},{"x":33.4,"p":2e-3},{"x":32.9,"p":1.2e-3},{"x":34.0,"p":0.006},{"x":33.9,"p":0.012},{"x":34.7,"p":0.02},{"x":35.0,"p":0.06},
{"x":11.1,"p":0.0042},{"x":13.67,"p":0.0032},{"x":15.68,"p":0.1},{"x":17.35,"p":0.0026},{"x":18.25,"p":0.0026},{"x":19.36,"p":0.0032},{"x":16.9,"p":0.05},{"x":18.1,"p":0.09},{"x":18.6,"p":0.03},{"x":17.8,"p":0.2},{"x":16.5,"p":0.19},{"x":18.9,"p":0.012},{"x":19.2,"p":0.06},{"x":19.0,"p":0.2},
{"x":15.41,"p":4.7e-4},{"x":16.38,"p":1.8e-4},{"x":16.38,"p":8.3e-4},{"x":17.42,"p":7.5e-5},{"x":17.97,"p":3.8e-4},{"x":18.11,"p":2.9e-5},{"x":18.87,"p":1.1e-4},{"x":19.36,"p":4.7e-4},{"x":19.56,"p":1.1e-4},{"x":20.26,"p":5.1e-4},{"x":20.05,"p":3.5e-5},{"x":18.18,"p":2.6e-5},{"x":19.0,"p":2.1e-5},{"x":18.45,"p":1.1e-4},{"x":19.15,"p":1.2e-4},{"x":20.4,"p":2.1e-5},{"x":20.95,"p":1.6e-6},{"x":20.7,"p":8e-6},{"x":21.0,"p":4e-5},{"x":21.2,"p":1.5e-5},
{"x":13.12,"p":5.6e-7},{"x":14.64,"p":1.6e-6},{"x":14.85,"p":1e-6},{"x":16.38,"p":3.2e-6},{"x":17.35,"p":2.9e-6},{"x":18.32,"p":2.4e-6},{"x":16.58,"p":9.1e-7},{"x":17.07,"p":3.8e-7},{"x":17.76,"p":3.8e-7},{"x":18.52,"p":9.1e-7},{"x":19.36,"p":9.1e-7},{"x":19.56,"p":1.5e-7},{"x":20.53,"p":1.6e-6},{"x":20.88,"p":3.8e-7},{"x":21.3,"p":8e-8},{"x":20.5,"p":4e-8},
{"x":18.25,"p":2.6e-10},{"x":18.52,"p":6.8e-11},{"x":19.36,"p":1.5e-11},{"x":19.9,"p":8.3e-11},{"x":19.7,"p":2.9e-12},{"x":20.05,"p":2.4e-12},{"x":19.56,"p":5.6e-13},{"x":19.9,"p":3.5e-13},{"x":20.6,"p":2.6e-13},{"x":20.53,"p":8.3e-14},{"x":19.7,"p":7.5e-15},{"x":20.4,"p":1.1e-14},{"x":21.1,"p":1.2e-14},{"x":21.2,"p":1.8e-15},{"x":19.7,"p":1.6e-15},{"x":21.1,"p":2.4e-16},{"x":18.66,"p":4.2e-16},{"x":19.0,"p":5.1e-9},{"x":19.7,"p":2.9e-9},{"x":19.9,"p":8.3e-9},{"x":19.36,"p":1.3e-8},{"x":19.7,"p":7.5e-10},{"x":19.0,"p":4.7e-10},{"x":18.66,"p":2.9e-10},{"x":20.6,"p":6.8e-10},{"x":20.53,"p":2.6e-8},{"x":21.2,"p":2.6e-8},
{"x":13.33,"p":5.6e-10},{"x":12.77,"p":1.8e-12},{"x":14.23,"p":3.2e-14},{"x":14.99,"p":5.1e-13},{"x":15.96,"p":2.4e-13},{"x":16.38,"p":1.95e-12},{"x":17.48,"p":3.5e-13},{"x":18.39,"p":1.95e-12},{"x":16.1,"p":4.2e-11},{"x":15.96,"p":1.5e-9},{"x":15.75,"p":5.6e-10},{"x":16.44,"p":5.6e-8},{"x":17.9,"p":5.6e-8},{"x":18.18,"p":2.6e-8},{"x":16.44,"p":1.1e-8},{"x":17.28,"p":6.2e-9},{"x":17.21,"p":3.5e-15},{"x":18.18,"p":1.8e-15},{"x":18.8,"p":4.2e-16},{"x":11.8,"p":8.3e-16},{"x":7.37,"p":9.1e-12},{"x":8.34,"p":6.2e-11}
]
},
"layer":[
 {"data":{"name":"samples"},
  "mark":{"type":"point","filled":true,"size":121,"opacity":1,"strokeWidth":0,"clip":true,"color":"#000000"},
  "encoding":{
   "x":{"field":"x","type":"quantitative","scale":{"domain":[5.565,44.1],"nice":false,"zero":false},
        "axis":{"values":[10,20,30,40],"title":"Angle of External Friction (δ, °)","labelPadding":9,"titlePadding":14}},
   "y":{"field":"p","type":"quantitative","scale":{"type":"log","domain":[1e-16,9.1],"nice":false},
        "axis":{"values":[1e-16,1e-13,1e-10,1e-7,1e-4,1e-1],"title":"p-value","labelPadding":8,"titlePadding":22,
                "labelExpr":"'10' + replace(replace(replace(replace(replace(replace(replace(''+round(log(datum.value)/LN10),'-','⁻'),'1','¹'),'0','⁰'),'3','³'),'4','⁴'),'6','⁶'),'7','⁷')"}},
   "shape":{"datum":"Sample δ","type":"nominal",
     "scale":{"domain":["Sample δ"],"range":["M0,-1L-1,1L1,1Z"]},
     "legend":{"title":null,
       "orient":"none","legendX":13,"legendY":13,"zindex":1,
       "labelFont":"DejaVu Serif","labelFontSize":23,"labelColor":"#000","labelLimit":300,
       "symbolSize":121,"symbolStrokeWidth":0,"symbolFillColor":"#000000","symbolOffset":12.5,"labelOffset":35.5,"padding":10,
       "fillColor":"transparent","strokeColor":"transparent"}}
  }},
 {"data":{"name":"conf"},
  "mark":{"type":"rect","opacity":0.3,"stroke":"#808080","strokeWidth":1.5},
  "encoding":{
   "x":{"field":"lo","type":"quantitative"},
   "x2":{"field":"hi"},
   "color":{"datum":"95% Conf.","type":"nominal",
     "scale":{"domain":["95% Conf."],"range":["#808080"]},
     "legend":{"title":"\u00a0\u00a0\u00a0\u00a0\u00a0\u00a0\u00a0\u00a0\u00a0\u00a0\u00a0\u00a0\u00a0\u00a0\u00a0\u00a0\u00a0\u00a0\u00a0\u00a0\u00a0\u00a0\u00a0\u00a0\u00a0\u00a0\u00a0","titleOrient":"top","titleFont":"DejaVu Serif","titleFontSize":23,"titlePadding":14,"titleLimit":400,
       "orient":"none","legendX":13,"legendY":13,"zindex":0,
       "labelFont":"DejaVu Serif","labelFontSize":23,"labelColor":"#000","labelLimit":300,
       "symbolType":"M-2.13,-0.74H2.13V0.74H-2.13Z","symbolSize":529,"symbolStrokeWidth":1.5,"symbolStrokeColor":"#808080","symbolOpacity":0.3,
       "symbolOffset":12,"labelOffset":35,"padding":10,
       "fillColor":"rgba(255,255,255,0.8)","strokeColor":"#cccccc","cornerRadius":5}}
  }}
]
}
